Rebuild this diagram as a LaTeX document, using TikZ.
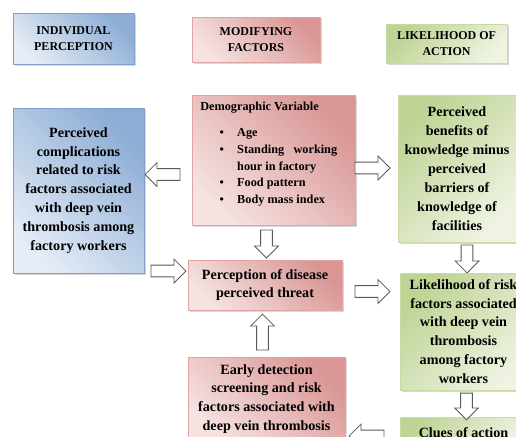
\documentclass[tikz,border=0pt]{standalone}
\usepackage{fontspec}
\setmainfont{Liberation Serif}
\usetikzlibrary{
    shapes.arrows, % For block arrows
    shadows,       % For drop shadows
}

% Box colours
\definecolor{bluedark}{RGB}{141,173,213}
\definecolor{bluelight}{RGB}{228,236,246}
\definecolor{bluedge}{RGB}{126,160,204}
\definecolor{pinkdark}{RGB}{217,150,148}
\definecolor{pinklight}{RGB}{245,226,225}
\definecolor{pinkedge}{RGB}{224,165,163}
\definecolor{greendark}{RGB}{190,211,148}
\definecolor{greenlight}{RGB}{238,243,226}
\definecolor{greenedge}{RGB}{200,219,163}

% Bullet of the demographic list
\newcommand{\dvitem}{\hspace*{14.6pt}\makebox[13.1pt][l]{\textbullet}}

\begin{document}
\begin{tikzpicture}[
    x=0.75pt, y=-0.75pt, % pixel grid, y pointing down
    box/.style={line width=0.6pt, align=center, inner sep=2pt,
        font=\fontsize{10.6}{14.2}\selectfont\bfseries,
        drop shadow={shadow xshift=1.6pt, shadow yshift=-1.6pt, opacity=0.3}},
    headbox/.style={box, font=\fontsize{9}{11.8}\selectfont\bfseries},
    bluebox/.style={draw=bluedge, left color=bluelight, right color=bluedark, shading angle=135},
    pinkbox/.style={draw=pinkedge, left color=pinklight, right color=pinkdark, shading angle=135},
    greenbox/.style={draw=greenedge, left color=greenlight, right color=greendark, shading angle=-135},
    barrow/.style={single arrow, draw=black!65, fill=white, line width=0.6pt,
        inner xsep=0pt, inner ysep=4.1pt, single arrow head extend=4.5pt,
        minimum height=26.25pt}, % hollow block arrow
]

    \useasboundingbox (0,0) rectangle (516,436);
    \fill[white] (0,0) rectangle (516,436);
    \clip (0,0) rectangle (516,436);

    % Column headings
    \node[headbox, bluebox, minimum width=90.75pt, minimum height=38.25pt] (hindiv) at (73.5,38.5) {INDIVIDUAL\\PERCEPTION};
    \node[headbox, pinkbox, minimum width=96pt, minimum height=33.75pt] (hmodif) at (256,39.5) {MODIFYING\\FACTORS};
    \node[headbox, greenbox, minimum width=90.75pt, minimum height=29.25pt] (hlike) at (446.5,43.5) {LIKELIHOOD OF\\ACTION};

    % Individual perception
    \node[box, bluebox, minimum width=98.25pt, minimum height=123.75pt] (complic) at (78.5,190.5)
        {Perceived\\complications\\related to risk\\factors associated\\with deep vein\\thrombosis among\\factory workers};

    % Modifying factors
    \node[box, pinkbox, minimum width=122.25pt, minimum height=97.5pt] (demo) at (273.5,160) {};
    \node[anchor=north west, inner sep=0pt, align=left,
        font=\fontsize{9.2}{12.5}\selectfont\bfseries] (demotxt) at (200,102)
        {Demographic Variable\\[7pt]
         \dvitem Age\\
         \dvitem\makebox[75pt][s]{Standing working}\\
         \hspace*{27.7pt}hour in factory\\
         \dvitem Food pattern\\
         \dvitem Body mass index};
    \node[box, pinkbox, minimum width=115.5pt, minimum height=37.5pt] (threat) at (265,285)
        {Perception of disease\\perceived threat};
    \node[box, pinkbox, minimum width=117.75pt, minimum height=63pt] (early) at (266.5,399)
        {Early detection\\screening and risk\\factors associated with\\deep vein thrombosis};

    % Likelihood of action
    \node[box, greenbox, minimum width=88.5pt, minimum height=110.25pt] (benefit) at (457,168.5)
        {Perceived\\benefits of\\knowledge minus\\perceived\\barriers of\\knowledge of\\facilities};
    \node[box, greenbox, minimum width=95.25pt, minimum height=87.75pt] (likely) at (463.5,331.5)
        {Likelihood of risk\\factors associated\\with deep vein\\thrombosis\\among factory\\workers};
    \node[box, greenbox, minimum width=95.25pt, minimum height=24pt] (clues) at (463.5,433)
        {Clues of action};

    % Block arrows between the boxes
    \node[barrow, rotate=180] (a1) at (165.5,174.5) {};
    \node[barrow] (a2) at (165.5,271) {};
    \node[barrow, rotate=-90, minimum height=21pt] (a3) at (266.5,241) {};
    \node[barrow] (a4) at (369.5,168) {};
    \node[barrow, rotate=-90, minimum height=21pt] (a5) at (467,256) {};
    \node[barrow] (a6) at (369.5,291.5) {};
    \node[barrow, rotate=90, minimum height=27pt] (a7) at (262.5,335) {};
    \node[barrow, rotate=-90, minimum height=20pt] (a8) at (466.5,403.5) {};
    \node[barrow, rotate=180] (a9) at (369.5,436) {};

\end{tikzpicture}
\end{document}
